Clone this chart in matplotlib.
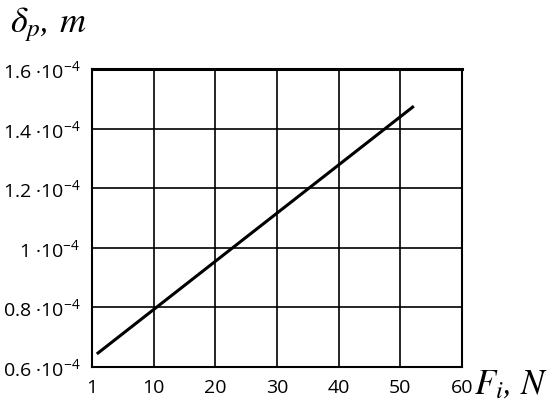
import matplotlib.pyplot as plt

# force F_i, N and displacement delta_p, m
force = [1, 52]
delta = [0.647e-4, 1.472e-4]

x_ticks = [0, 10, 20, 30, 40, 50, 60]
x_labels = ["1", "10", "20", "30", "40", "50", "60"]
y_ticks = [0.6e-4, 0.8e-4, 1.0e-4, 1.2e-4, 1.4e-4, 1.6e-4]
y_labels = ["0.6 ·10$^{-4}$", "0.8 ·10$^{-4}$", "1 ·10$^{-4}$",
            "1.2 ·10$^{-4}$", "1.4 ·10$^{-4}$", "1.6 ·10$^{-4}$"]

plt.rcParams["mathtext.fontset"] = "custom"
plt.rcParams["mathtext.rm"] = "Open Sans"
plt.rcParams["mathtext.it"] = "STIXGeneral:italic"
plt.rcParams["mathtext.fallback"] = "stix"
plt.rcParams["font.family"] = ["Open Sans", "DejaVu Sans"]

fig = plt.figure(figsize=(5.5, 4.1), dpi=100)
ax = fig.add_axes([0.167, 0.1024, 0.673, 0.727])

ax.plot(force, delta, color="black", lw=2.2)

ax.set_xlim(0, 60)
ax.set_ylim(0.6e-4, 1.6e-4)
ax.set_xticks(x_ticks)
ax.set_xticklabels(x_labels, fontsize=14)
ax.set_yticks(y_ticks)
ax.set_yticklabels(y_labels, fontsize=14)
ax.tick_params(length=0, pad=8)
ax.grid(True, color="black", lw=1.2)

for side in ["left", "bottom", "right"]:
    ax.spines[side].set_linewidth(1.5)
ax.spines["top"].set_linewidth(2.2)

fig.text(0.018, 0.94, "$\\delta_p$, $m$", fontsize=26, family="STIXGeneral",
         style="italic", va="center")
fig.text(0.862, 0.062, "$F_i$, $N$", fontsize=25, family="STIXGeneral",
         style="italic", va="center")

fig.savefig("out.png", dpi=100)
